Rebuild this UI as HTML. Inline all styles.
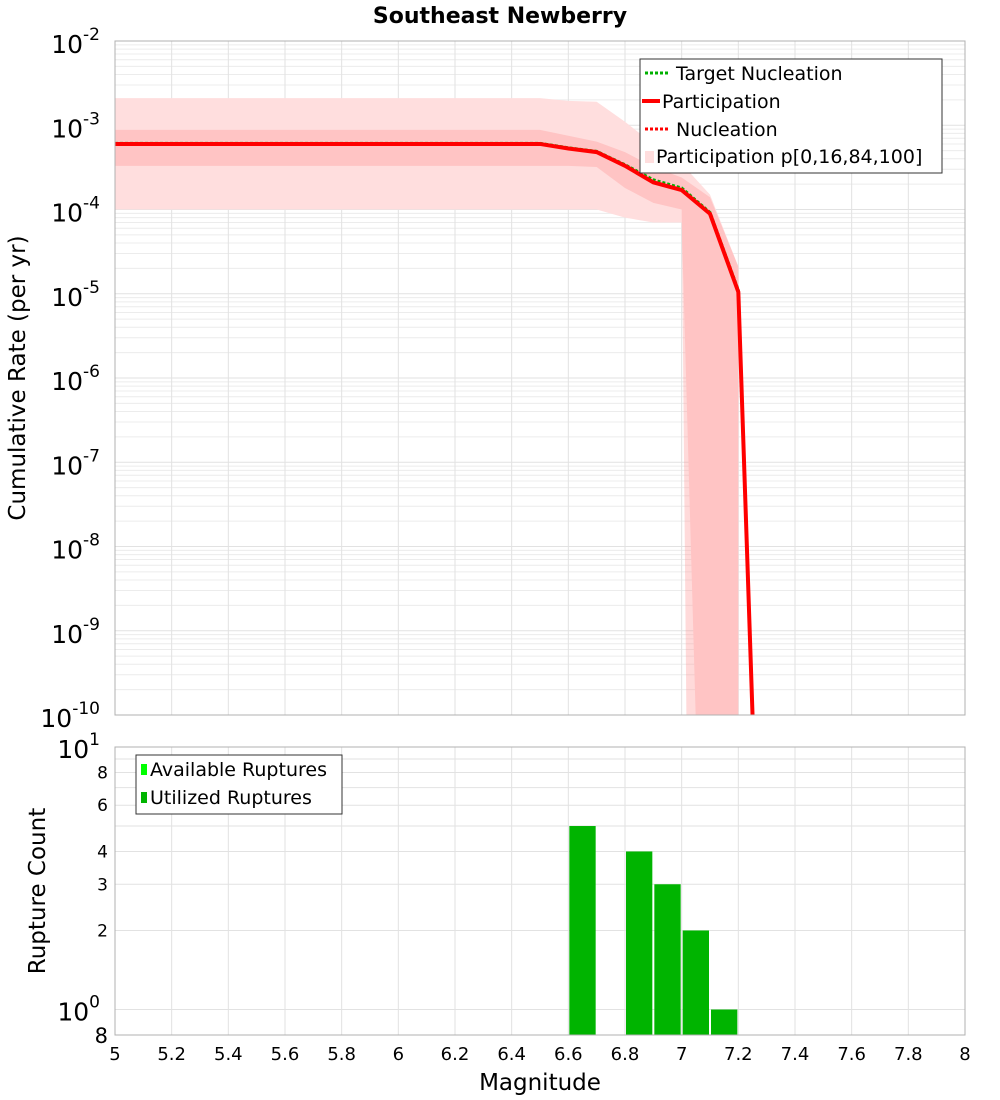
<!DOCTYPE html>
<html><head><meta charset="utf-8"><style>
html,body{margin:0;padding:0;background:#fff;overflow:hidden;width:1000px;height:1100px}
svg{display:block}
svg text{font-family:"DejaVu Sans","Liberation Sans",sans-serif}
</style></head><body>
<svg id="c" width="1000" height="1100" xmlns="http://www.w3.org/2000/svg">
<defs>
<clipPath id="clipTop"><rect x="115" y="41" width="850" height="674"/></clipPath>
<clipPath id="clipBot"><rect x="115" y="747" width="850" height="288"/></clipPath>
</defs>
<text x="500" y="23" text-anchor="middle" font-size="22" font-weight="bold">Southeast Newberry</text>
<g id="topGrid"></g><g id="topMarks" clip-path="url(#clipTop)"></g>
<rect x="115" y="41" width="850" height="674" fill="none" stroke="#b0b0b0"/>
<g id="topTicks"></g>
<text transform="translate(25,378) rotate(-90)" text-anchor="middle" font-size="23">Cumulative Rate (per yr)</text>
<g id="botGrid"></g><g id="botMarks" clip-path="url(#clipBot)"></g>
<rect x="115" y="747" width="850" height="288" fill="none" stroke="#b0b0b0"/>
<g id="botTicks"></g>
<text transform="translate(45,891) rotate(-90)" text-anchor="middle" font-size="23">Rupture Count</text>
<text x="540" y="1090" text-anchor="middle" font-size="23">Magnitude</text>
<g>
<rect x="640" y="59" width="302" height="114" fill="#fff" stroke="#333"/>
<line x1="645" y1="73" x2="670" y2="73" stroke="#00b000" stroke-width="3" stroke-dasharray="3,2"/>
<text x="676" y="80" font-size="19">Target Nucleation</text>
<line x1="642" y1="101" x2="660" y2="101" stroke="#ff0000" stroke-width="4"/>
<text x="662" y="108" font-size="19">Participation</text>
<line x1="645" y1="129" x2="670" y2="129" stroke="#ff0000" stroke-width="3" stroke-dasharray="3,2"/>
<text x="676" y="136" font-size="19">Nucleation</text>
<rect x="645" y="151" width="9" height="12" fill="#ffdede"/>
<text x="656" y="163" font-size="19">Participation p[0,16,84,100]</text>
</g>
<g>
<rect x="136" y="755" width="206" height="59" fill="#fff" stroke="#333"/>
<rect x="141" y="764" width="6" height="11" fill="#00ff00"/>
<text x="150" y="776" font-size="19">Available Ruptures</text>
<rect x="141" y="792" width="6" height="11" fill="#00b400"/>
<text x="150" y="804" font-size="19">Utilized Ruptures</text>
</g>
</svg>
<script>
const mags=[5.0,5.1,5.2,5.3,5.4,5.5,5.6,5.7,5.8,5.9,6.0,6.1,6.2,6.3,6.4,6.5,6.6,6.7,6.8,6.9,7.0,7.1,7.2,7.3];
const partRate=[6e-4,6e-4,6e-4,6e-4,6e-4,6e-4,6e-4,6e-4,6e-4,6e-4,6e-4,6e-4,6e-4,6e-4,6e-4,6e-4,5.3e-4,4.8e-4,3.3e-4,2.1e-4,1.7e-4,8.9e-5,1.05e-5,1e-15];
const targetNucl=[6.1e-4,6.1e-4,6.1e-4,6.1e-4,6.1e-4,6.1e-4,6.1e-4,6.1e-4,6.1e-4,6.1e-4,6.1e-4,6.1e-4,6.1e-4,6.1e-4,6.1e-4,6.1e-4,5.4e-4,4.9e-4,3.4e-4,2.25e-4,1.8e-4,9.2e-5,1.1e-5,1e-15];
const p100=[2.1e-3,2.1e-3,2.1e-3,2.1e-3,2.1e-3,2.1e-3,2.1e-3,2.1e-3,2.1e-3,2.1e-3,2.1e-3,2.1e-3,2.1e-3,2.1e-3,2.1e-3,2.1e-3,1.95e-3,1.9e-3,1.1e-3,6e-4,3.5e-4,1.5e-4,2.1e-5];
const p0=[1e-4,1e-4,1e-4,1e-4,1e-4,1e-4,1e-4,1e-4,1e-4,1e-4,1e-4,1e-4,1e-4,1e-4,1e-4,1e-4,1e-4,1e-4,8e-5,7e-5,7e-5,1e-16,1e-16];
const p84=[8.8e-4,8.8e-4,8.8e-4,8.8e-4,8.8e-4,8.8e-4,8.8e-4,8.8e-4,8.8e-4,8.8e-4,8.8e-4,8.8e-4,8.8e-4,8.8e-4,8.8e-4,8.8e-4,7.5e-4,6.4e-4,4.8e-4,3.2e-4,2.4e-4,1.4e-4,2.1e-5];
const p16=[3.3e-4,3.3e-4,3.3e-4,3.3e-4,3.3e-4,3.3e-4,3.3e-4,3.3e-4,3.3e-4,3.3e-4,3.3e-4,3.3e-4,3.3e-4,3.3e-4,3.3e-4,3.3e-4,3.3e-4,3.2e-4,1.8e-4,1.2e-4,1.0e-4,1e-40,1e-40];
const barMags=[6.6,6.8,6.9,7.0,7.1];
const barCounts=[5,4,3,2,1];
const xTicks=[5,5.2,5.4,5.6,5.8,6,6.2,6.4,6.6,6.8,7,7.2,7.4,7.6,7.8,8];
const yExps=[-2,-3,-4,-5,-6,-7,-8,-9,-10];
const countTicks=[2,3,4,6,8];

const NS='http://www.w3.org/2000/svg';
function mk(t,a,p){const e=document.createElementNS(NS,t);for(const k in a)e.setAttribute(k,a[k]);p.appendChild(e);return e;}
const X=m=>115+(m-5)/3*850;
const Y=v=>41+(-2-Math.log10(v))*84.25;
const YB=v=>747+(1-Math.log10(v))*262.5;
const $=id=>document.getElementById(id);

for(let e=-10;e<-2;e++)for(let k=1;k<10;k++){const y=Y(k*Math.pow(10,e));const l=mk('line',{x1:115,x2:965,y1:y,y2:y,stroke:k==1?'#e2e2e2':'#ececec','stroke-width':1},$('topGrid'));

}
xTicks.forEach(t=>{const x=X(t);const l=mk('line',{x1:x,x2:x,y1:41,y2:715,stroke:'#e2e2e2'},$('topGrid'));


const l2=mk('line',{x1:x,x2:x,y1:747,y2:1035,stroke:'#e2e2e2'},$('botGrid'));


const tx=mk('text',{x:x,y:1060,'text-anchor':'middle','font-size':18},$('botTicks'));tx.textContent=String(t);

});
yExps.forEach(e=>{const y=Y(Math.pow(10,e));const t=mk('text',{x:100,y:y+12,'text-anchor':'end','font-size':25},$('topTicks'));


t.textContent='10';const s=mk('tspan',{dy:-13,'font-size':17},t);s.textContent=String(e);});

function pts(xs,vs){return xs.map((m,i)=>X(m)+','+Y(vs[i])).join(' ');}
function band(up,lo,fill,name){const a=[];for(let i=0;i<up.length;i++)a.push(X(mags[i])+','+Y(up[i]));
for(let i=lo.length-1;i>=0;i--)a.push(X(mags[i])+','+Y(lo[i]));const p=mk('polygon',{points:a.join(' '),fill:fill},$('topMarks'));

}
band(p100,p0,'#ffdede','band-p0-p100');
band(p84,p16,'rgba(255,150,150,0.35)','band-p16-p84');
let l=mk('polyline',{points:pts(mags,targetNucl),fill:'none',stroke:'#00b000','stroke-width':3,'stroke-dasharray':'3,2'},$('topMarks'));


l=mk('polyline',{points:pts(mags,partRate),fill:'none',stroke:'#ff0000','stroke-width':4},$('topMarks'));


l=mk('polyline',{points:pts(mags,partRate),fill:'none',stroke:'#ff0000','stroke-width':3,'stroke-dasharray':'3,2'},$('topMarks'));



for(let k=1;k<=10;k++){const y=YB(k);const g=mk('line',{x1:115,x2:965,y1:y,y2:y,stroke:'#e2e2e2'},$('botGrid'));

}
countTicks.forEach(c=>{const t=mk('text',{x:108,y:YB(c)+6,'text-anchor':'end','font-size':17},$('botTicks'));t.textContent=String(c);

});
[[1,'1'],[0,'0']].forEach(([e,s])=>{const t=mk('text',{x:100,y:YB(Math.pow(10,e))+11,'text-anchor':'end','font-size':25},$('botTicks'));t.textContent='10';


const sp=mk('tspan',{dy:-13,'font-size':17},t);sp.textContent=s;});
const t8=mk('text',{x:108,y:1043,'text-anchor':'end','font-size':21},$('botTicks'));t8.textContent='8';


barMags.forEach((m,i)=>{const x0=X(m)+1,x1=X(m+0.1)-1;const y=YB(barCounts[i]);
const r=mk('rect',{x:x0,y:y,width:x1-x0,height:1035-y,fill:'#00b400'},$('botMarks'));

});
</script>
</body></html>
